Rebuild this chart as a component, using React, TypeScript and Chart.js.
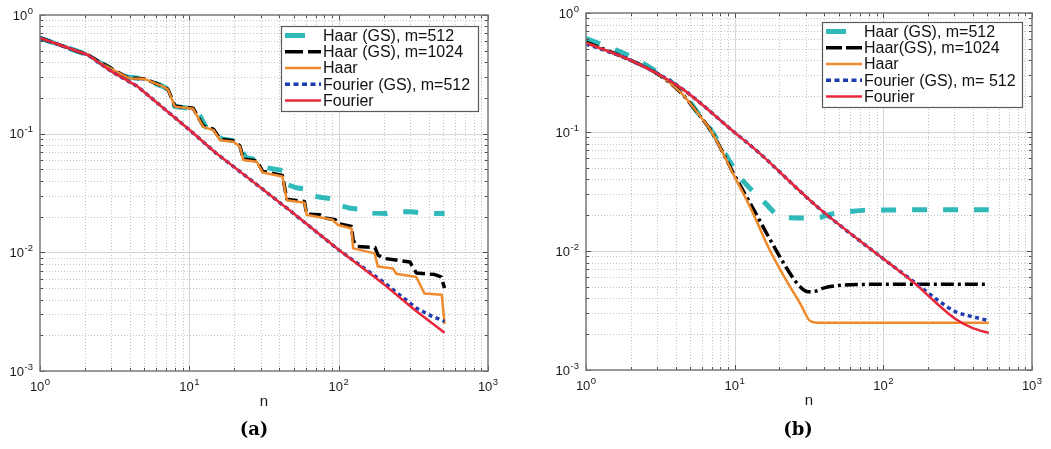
import React, { useEffect, useRef } from "react";
import { Chart, registerables } from "chart.js";

Chart.register(...registerables);

// ---------------- data: panel (a) ----------------
const aHaarGS512N = [1, 2.1, 2.45, 3.8, 5.0, 6.7, 7.2, 8.0, 10.6, 11.2, 12.9, 14.5, 16.5, 20.3, 21.8, 23.8, 28.6, 32, 42, 46, 52, 62, 66, 77, 95, 100, 120, 135, 145, 170, 210, 250, 310, 360, 430, 512];
const aHaarGS512V = [0.64, 0.46, 0.405, 0.3, 0.29, 0.249, 0.235, 0.169, 0.162, 0.16, 0.114, 0.108, 0.09, 0.087, 0.081, 0.063, 0.06, 0.052, 0.049, 0.037, 0.035, 0.034, 0.03, 0.029, 0.028, 0.025, 0.0235, 0.0232, 0.022, 0.0214, 0.0212, 0.022, 0.022, 0.0214, 0.0213, 0.0212];

const aHaarGS1024N = [1, 2.1, 2.45, 3.8, 4.0, 5.0, 6.7, 7.2, 8.0, 10.6, 12.4, 14.5, 16.1, 19.7, 21.8, 23, 28.3, 31, 42, 45, 59, 61, 75, 80, 95, 99, 122, 125, 132, 175, 183, 200, 300, 331, 440, 486, 500, 512];
const aHaarGS1024V = [0.64, 0.46, 0.41, 0.3, 0.294, 0.29, 0.25, 0.236, 0.171, 0.164, 0.116, 0.109, 0.09, 0.087, 0.079, 0.061, 0.059, 0.048, 0.0445, 0.028, 0.0268, 0.021, 0.0207, 0.0195, 0.0188, 0.0175, 0.0165, 0.0127, 0.0112, 0.011, 0.0095, 0.0089, 0.0083, 0.0067, 0.0065, 0.0062, 0.0055, 0.005];

const aHaarN = [1, 2.1, 2.45, 3.8, 4.0, 5.0, 6.7, 7.2, 8.0, 10.6, 12.4, 14.5, 16.1, 19.7, 21.8, 23, 28.3, 31, 42, 45, 59, 61, 91, 99, 122, 125, 174, 183, 231, 243, 331, 375, 490, 512];
const aHaarV = [0.64, 0.46, 0.405, 0.3, 0.292, 0.29, 0.249, 0.235, 0.169, 0.162, 0.114, 0.107, 0.088, 0.0855, 0.078, 0.06, 0.058, 0.047, 0.0435, 0.0275, 0.0262, 0.0207, 0.0188, 0.017, 0.0159, 0.0108, 0.0098, 0.0076, 0.0073, 0.0066, 0.0062, 0.0045, 0.0044, 0.0025];

const aFourierGSN = [1, 2.1, 3, 4.5, 7, 10, 15, 25, 50, 100, 200, 330, 420, 512];
const aFourierGSV = [0.64, 0.46, 0.335, 0.25, 0.157, 0.108, 0.069, 0.042, 0.0212, 0.0105, 0.0056, 0.0034, 0.0029, 0.00262];

const aFourierN = [1, 2.1, 3, 4.5, 7, 10, 15, 25, 50, 100, 200, 330, 512];
const aFourierV = [0.64, 0.46, 0.335, 0.25, 0.157, 0.108, 0.069, 0.042, 0.0212, 0.0105, 0.0054, 0.0032, 0.0021];

// ---------------- data: panel (b) ----------------
const bHaarGS512N = [1, 2, 3, 4.3, 5.9, 7.2, 8.8, 10.8, 13.2, 16.2, 19, 24, 30, 36, 45, 60, 80, 512];
const bHaarGS512V = [0.61, 0.43, 0.32, 0.225, 0.135, 0.097, 0.063, 0.042, 0.032, 0.025, 0.0205, 0.019, 0.0189, 0.019, 0.0205, 0.0215, 0.0221, 0.0222];

const bHaarGS1024N = [1, 2, 3, 4.3, 5.5, 7, 10, 13, 16.2, 21.9, 26.8, 31.2, 35, 40, 60, 100, 512];
const bHaarGS1024V = [0.57, 0.4, 0.31, 0.217, 0.15, 0.1, 0.043, 0.024, 0.0145, 0.0075, 0.0052, 0.00455, 0.0046, 0.0049, 0.0052, 0.00525, 0.00525];

const bHaarN = [1, 2, 3, 4.3, 5.5, 7, 10, 13, 17, 22, 28, 32, 36, 512];
const bHaarV = [0.56, 0.4, 0.31, 0.217, 0.15, 0.1, 0.042, 0.022, 0.0105, 0.0058, 0.0035, 0.0026, 0.0025, 0.0025];

const bFourierGSN = [1, 2, 4.3, 10, 14, 36, 100, 164, 230, 304, 400, 512];
const bFourierGSV = [0.55, 0.4, 0.237, 0.099, 0.07, 0.0235, 0.0086, 0.0054, 0.0039, 0.0031, 0.0028, 0.0026];

const bFourierN = [1, 2, 4.3, 10, 14, 36, 100, 164, 230, 304, 400, 512];
const bFourierV = [0.56, 0.4, 0.237, 0.099, 0.07, 0.0235, 0.0086, 0.0053, 0.0036, 0.0027, 0.00225, 0.00205];

// ---------------- labels ----------------
const xTickExponents = [0, 1, 2, 3];
const yTickExponents = [0, -1, -2, -3];
const legendLabelsA = ["Haar (GS), m=512", "Haar (GS), m=1024", "Haar", "Fourier (GS), m=512", "Fourier"];
const legendLabelsB = ["Haar (GS), m=512", "Haar(GS), m=1024", "Haar", "Fourier (GS), m= 512", "Fourier"];
const xAxisLabel = "n";
const captionA = "(a)";
const captionB = "(b)";

const COLORS = {
  cyan: "#2fb9b9",
  black: "#000000",
  orange: "#ee8a2c",
  blue: "#1f3cae",
  red: "#e8283a",
};

const SANS = '"Liberation Sans", Arial, Helvetica, sans-serif';

function pts(ns: number[], vs: number[]) {
  return ns.map((n, i) => ({ x: n, y: vs[i] }));
}

type Panel = {
  width: number;
  left: number;
  padding: { left: number; top: number; right: number; bottom: number };
  legend: { x: number; y: number; w: number; h: number };
  caption: string;
  captionX: number;
  smooth: boolean;
  build: () => any[];
};

function makeDatasets(
  labels: string[],
  series: [number[], number[]][],
  blackDash: number[],
  blackLegendDash: number[],
  smooth: boolean
) {
  const styles = [
    { color: COLORS.cyan, width: 5, dash: [15, 16], legendDash: [20, 30], order: 4 },
    { color: COLORS.black, width: 3.5, dash: blackDash, legendDash: blackLegendDash, order: 3 },
    { color: COLORS.orange, width: 2.5, dash: [], legendDash: [], order: 2 },
    { color: COLORS.blue, width: 3.5, dash: [4, 3.5], legendDash: [5, 3.5], order: 1 },
    { color: COLORS.red, width: 2.5, dash: [], legendDash: [], order: 0 },
  ];
  return series.map((s, i) => ({
    label: labels[i],
    data: pts(s[0], s[1]),
    borderColor: styles[i].color,
    backgroundColor: styles[i].color,
    borderWidth: styles[i].width,
    borderDash: styles[i].dash,
    legendDash: styles[i].legendDash,
    borderCapStyle: "butt",
    borderJoinStyle: "round",
    pointRadius: 0,
    fill: false,
    tension: 0,
    cubicInterpolationMode: smooth ? "monotone" : "default",
    order: styles[i].order,
  }));
}

function drawPow(ctx: CanvasRenderingContext2D, x: number, y: number, exp: number, align: "center" | "right") {
  const base = "10";
  const sup = String(exp);
  ctx.font = `13px ${SANS}`;
  const wb = ctx.measureText(base).width;
  ctx.font = `9.5px ${SANS}`;
  const ws = ctx.measureText(sup).width;
  const total = wb + 0.5 + ws;
  const x0 = align === "center" ? x - total / 2 : x - total;
  ctx.textAlign = "left";
  ctx.textBaseline = "alphabetic";
  ctx.font = `13px ${SANS}`;
  ctx.fillText(base, x0, y);
  ctx.font = `9.5px ${SANS}`;
  ctx.fillText(sup, x0 + wb + 0.5, y - 6);
}

function makeDecorPlugin(p: Panel) {
  return {
    id: "decor",
    beforeDraw(chart: any) {
      const ctx = chart.ctx as CanvasRenderingContext2D;
      ctx.save();
      ctx.fillStyle = "#ffffff";
      ctx.fillRect(0, 0, chart.width, chart.height);
      ctx.restore();
    },
    beforeDatasetsDraw(chart: any) {
      const ctx = chart.ctx as CanvasRenderingContext2D;
      const xs = chart.scales.x;
      const ys = chart.scales.y;
      const a = chart.chartArea;
      const xe0 = Math.round(Math.log10(xs.min));
      const xe1 = Math.round(Math.log10(xs.max));
      const ye0 = Math.round(Math.log10(ys.min));
      const ye1 = Math.round(Math.log10(ys.max));
      ctx.save();
      ctx.lineWidth = 1;
      // minor dotted grid
      ctx.strokeStyle = "#c4c4c4";
      ctx.setLineDash([1, 2]);
      for (let e = xe0; e < xe1; e++) {
        for (let k = 2; k <= 9; k++) {
          const px = Math.round(xs.getPixelForValue(k * Math.pow(10, e))) + 0.5;
          ctx.beginPath();
          ctx.moveTo(px, a.top);
          ctx.lineTo(px, a.bottom);
          ctx.stroke();
        }
      }
      for (let e = ye0; e < ye1; e++) {
        for (let k = 2; k <= 9; k++) {
          const py = Math.round(ys.getPixelForValue(k * Math.pow(10, e))) + 0.5;
          ctx.beginPath();
          ctx.moveTo(a.left, py);
          ctx.lineTo(a.right, py);
          ctx.stroke();
        }
      }
      // major solid grid
      ctx.setLineDash([]);
      ctx.strokeStyle = "#d6d6d6";
      for (let e = xe0 + 1; e < xe1; e++) {
        const px = Math.round(xs.getPixelForValue(Math.pow(10, e))) + 0.5;
        ctx.beginPath();
        ctx.moveTo(px, a.top);
        ctx.lineTo(px, a.bottom);
        ctx.stroke();
      }
      for (let e = ye0 + 1; e < ye1; e++) {
        const py = Math.round(ys.getPixelForValue(Math.pow(10, e))) + 0.5;
        ctx.beginPath();
        ctx.moveTo(a.left, py);
        ctx.lineTo(a.right, py);
        ctx.stroke();
      }
      ctx.restore();
    },
    afterDatasetsDraw(chart: any) {
      const ctx = chart.ctx as CanvasRenderingContext2D;
      const xs = chart.scales.x;
      const ys = chart.scales.y;
      const a = chart.chartArea;
      const xe0 = Math.round(Math.log10(xs.min));
      const xe1 = Math.round(Math.log10(xs.max));
      const ye0 = Math.round(Math.log10(ys.min));
      const ye1 = Math.round(Math.log10(ys.max));
      ctx.save();
      // tick marks (inside, all four sides)
      ctx.strokeStyle = "#4a4a4a";
      ctx.lineWidth = 1;
      ctx.setLineDash([]);
      for (let e = xe0; e <= xe1; e++) {
        for (let k = 1; k <= 9; k++) {
          if (e === xe1 && k > 1) break;
          const len = k === 1 ? 5 : 3;
          const px = Math.round(xs.getPixelForValue(k * Math.pow(10, e))) + 0.5;
          ctx.beginPath();
          ctx.moveTo(px, a.bottom);
          ctx.lineTo(px, a.bottom - len);
          ctx.moveTo(px, a.top);
          ctx.lineTo(px, a.top + len);
          ctx.stroke();
        }
      }
      for (let e = ye0; e <= ye1; e++) {
        for (let k = 1; k <= 9; k++) {
          if (e === ye1 && k > 1) break;
          const len = k === 1 ? 5 : 3;
          const py = Math.round(ys.getPixelForValue(k * Math.pow(10, e))) + 0.5;
          ctx.beginPath();
          ctx.moveTo(a.left, py);
          ctx.lineTo(a.left + len, py);
          ctx.moveTo(a.right, py);
          ctx.lineTo(a.right - len, py);
          ctx.stroke();
        }
      }
      // frame
      ctx.strokeStyle = "#777777";
      ctx.lineWidth = 1.5;
      ctx.strokeRect(a.left, a.top, a.right - a.left, a.bottom - a.top);

      // tick labels
      ctx.fillStyle = "#1a1a1a";
      xTickExponents.forEach((e) => {
        const px = xs.getPixelForValue(Math.pow(10, e));
        drawPow(ctx, px, a.bottom + 20, e, "center");
      });
      yTickExponents.forEach((e) => {
        const py = ys.getPixelForValue(Math.pow(10, e));
        drawPow(ctx, a.left - 7, py + 4.5, e, "right");
      });

      // axis label
      ctx.font = `15px ${SANS}`;
      ctx.textAlign = "center";
      ctx.textBaseline = "middle";
      ctx.fillStyle = "#1a1a1a";
      ctx.fillText(xAxisLabel, (a.left + a.right) / 2, a.bottom + 31);

      // caption
      ctx.font = `bold 18px "DejaVu Serif", "Liberation Serif", serif`;
      ctx.fillStyle = "#000000";
      ctx.fillText(p.caption, p.captionX, 430);

      // legend
      const L = p.legend;
      ctx.fillStyle = "#ffffff";
      ctx.fillRect(L.x, L.y, L.w, L.h);
      ctx.strokeStyle = "#5a5a5a";
      ctx.lineWidth = 1.2;
      ctx.strokeRect(L.x + 0.5, L.y + 0.5, L.w, L.h);
      const dsets = chart.data.datasets;
      dsets.forEach((ds: any, i: number) => {
        const ry = L.y + 9.5 + i * 16.25;
        ctx.save();
        ctx.strokeStyle = ds.borderColor;
        ctx.lineWidth = ds.borderWidth;
        ctx.lineCap = "butt";
        ctx.setLineDash(ds.legendDash || []);
        ctx.beginPath();
        ctx.moveTo(L.x + 4, ry);
        ctx.lineTo(L.x + 40, ry);
        ctx.stroke();
        ctx.restore();
        ctx.fillStyle = "#111111";
        ctx.font = `16px ${SANS}`;
        ctx.textAlign = "left";
        ctx.textBaseline = "middle";
        ctx.fillText(ds.label, L.x + 42, ry + 1);
      });
      ctx.restore();
    },
  };
}

const panels: Panel[] = [
  {
    width: 525,
    left: 0,
    padding: { left: 40, top: 15, right: 37, bottom: 78 },
    legend: { x: 281, y: 26, w: 197, h: 85 },
    caption: captionA,
    captionX: 254,
    smooth: false,
    build: () =>
      makeDatasets(
        legendLabelsA,
        [
          [aHaarGS512N, aHaarGS512V],
          [aHaarGS1024N, aHaarGS1024V],
          [aHaarN, aHaarV],
          [aFourierGSN, aFourierGSV],
          [aFourierN, aFourierV],
        ],
        [12, 5],
        [18, 5],
        false
      ),
  },
  {
    width: 526,
    left: 525,
    padding: { left: 61, top: 13, right: 19, bottom: 79 },
    legend: { x: 297, y: 22, w: 200, h: 85 },
    caption: captionB,
    captionX: 273,
    smooth: true,
    build: () =>
      makeDatasets(
        legendLabelsB,
        [
          [bHaarGS512N, bHaarGS512V],
          [bHaarGS1024N, bHaarGS1024V],
          [bHaarN, bHaarV],
          [bFourierGSN, bFourierGSV],
          [bFourierN, bFourierV],
        ],
        [13, 4, 3, 4],
        [16, 4],
        true
      ),
  },
];

function PanelChart({ panel }: { panel: Panel }) {
  const ref = useRef<HTMLCanvasElement>(null);
  useEffect(() => {
    if (!ref.current) return;
    const chart = new Chart(ref.current, {
      type: "line",
      data: { datasets: panel.build() as any },
      options: {
        responsive: false,
        maintainAspectRatio: false,
        animation: false,
        devicePixelRatio: 1,
        events: [],
        layout: { padding: panel.padding },
        plugins: {
          legend: { display: false },
          tooltip: { enabled: false },
          title: { display: false },
        },
        scales: {
          x: { type: "logarithmic", min: 1, max: 1000, display: false },
          y: { type: "logarithmic", min: 0.001, max: 1, display: false },
        },
        elements: { point: { radius: 0 } },
      } as any,
      plugins: [makeDecorPlugin(panel) as any],
    });
    return () => chart.destroy();
  }, [panel]);
  return (
    <canvas
      ref={ref}
      width={panel.width}
      height={449}
      style={{ position: "absolute", left: panel.left, top: 0, width: panel.width, height: 449, display: "block" }}
    />
  );
}

export default function App() {
  return (
    <div style={{ position: "absolute", left: 0, top: 0, width: 1051, height: 449, background: "#ffffff", overflow: "hidden" }}>
      {panels.map((p, i) => (
        <PanelChart key={i} panel={p} />
      ))}
    </div>
  );
}
